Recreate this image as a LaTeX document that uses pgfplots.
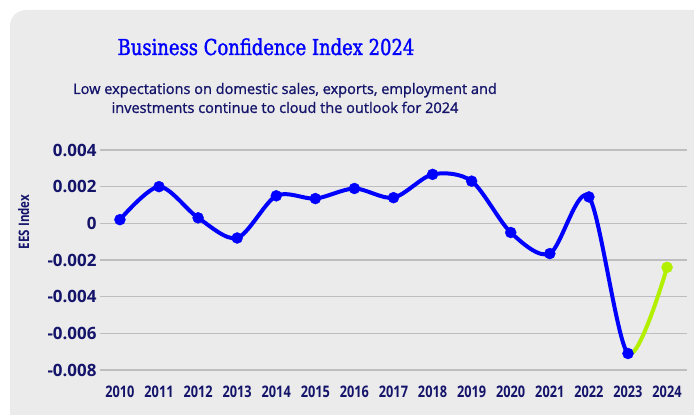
\documentclass[border=0pt]{standalone}
\usepackage{fontspec}
\setmainfont{Open Sans}
\newfontfamily\condfont[FakeStretch=0.8]{Open Sans}
\newfontfamily\subfont[FakeBold=1.2]{Open Sans}
\newfontfamily\titlefont[FakeStretch=0.82,FakeBold=1.5]{DejaVu Serif}
\usepackage{pgfplots}
\pgfplotsset{compat=1.18}

\definecolor{panelbg}{HTML}{EBEBEB}
\definecolor{navy}{HTML}{14146B}
\definecolor{lineblue}{HTML}{0000FF}
\definecolor{limegreen}{HTML}{B2F000}
\definecolor{gridgray}{HTML}{BEBEBE}

\pgfplotstableread{
year val
2010 0.0002
2011 0.0020
2012 0.0003
2013 -0.0008
2014 0.0015
2015 0.00135
2016 0.0019
2017 0.0014
2018 0.00267
2019 0.0023
2020 -0.0005
2021 -0.00165
2022 0.00144
2023 -0.0071
2024 -0.0024
}\bci

% one year = 587/15.02 bp
\pgfplotsset{
  bcibase/.style={
    scale only axis, height=220bp,
    ymin=-0.008, ymax=0.004,
    scaled y ticks=false,
  },
  bciline/.style={line width=4bp, smooth, tension=0.5, no marks},
}

\begin{document}
\begin{tikzpicture}
\path[use as bounding box] (0bp,0bp) rectangle (694bp,415bp);
\fill[panelbg, rounded corners=16bp] (10bp,-30bp) rectangle (730bp,405bp);

\node[font=\titlefont\fontsize{22}{26}\selectfont, text=lineblue, anchor=base] at (266bp,360bp) {Business Confidence Index 2024};
\node[font=\subfont\fontsize{14.6}{19}\selectfont, text=navy, align=center, anchor=center] at (285bp,317bp)
  {Low expectations on domestic sales, exports, employment and\\investments continue to cloud the outlook for 2024};

% main axis: grid, ticks, labels
\begin{axis}[
    bcibase,
    at={(100bp,45bp)}, anchor=south west,
    width=587bp,
    xmin=2009.49, xmax=2024.51,
    xtick={2010,...,2024},
    xticklabels={2010,2011,2012,2013,2014,2015,2016,2017,2018,2019,2020,2021,2022,2023,2024},
    ytick={-0.008,-0.006,-0.004,-0.002,0,0.002,0.004},
    yticklabels={-0.008,-0.006,-0.004,-0.002,0,0.002,0.004},
    axis line style={draw=none},
    major tick length=0pt,
    ymajorgrids,
    grid style={gridgray, line width=1.4bp},
    xticklabel style={font=\condfont\bfseries\fontsize{16}{18}\selectfont, text=navy, yshift=-12bp},
    yticklabel style={font=\bfseries\fontsize{17}{20}\selectfont, text=navy, xshift=0bp},
    ylabel={\condfont\bfseries\fontsize{14.5}{16}\selectfont EES Index},
    ylabel style={text=navy, at={(rel axis cs:-0.13,0.673)}, anchor=center},
    clip=false,
]
\end{axis}

% blue line, clipped at 2023
\begin{axis}[
    bcibase, hide axis,
    at={(100bp,45bp)}, anchor=south west,
    width=528bp,
    xmin=2009.49, xmax=2023,
]
\addplot[lineblue, bciline] table[x=year,y=val] {\bci};
\end{axis}

% green line, from 2023 on
\begin{axis}[
    bcibase, hide axis,
    at={(628bp,45bp)}, anchor=south west,
    width=59bp,
    xmin=2023, xmax=2024.51,
]
\addplot[limegreen, bciline] table[x=year,y=val] {\bci};
\end{axis}

% markers
\begin{axis}[
    bcibase, hide axis,
    at={(100bp,45bp)}, anchor=south west,
    width=587bp,
    xmin=2009.49, xmax=2024.51,
    clip=false,
]
\addplot[lineblue, only marks, mark=*, mark size=5.5bp, mark options={fill=lineblue, draw=none},
    restrict x to domain=2009:2023.5] table[x=year,y=val] {\bci};
\addplot[limegreen, only marks, mark=*, mark size=5.5bp, mark options={fill=limegreen, draw=none},
    restrict x to domain=2023.5:2025] table[x=year,y=val] {\bci};
\end{axis}
\end{tikzpicture}
\end{document}
